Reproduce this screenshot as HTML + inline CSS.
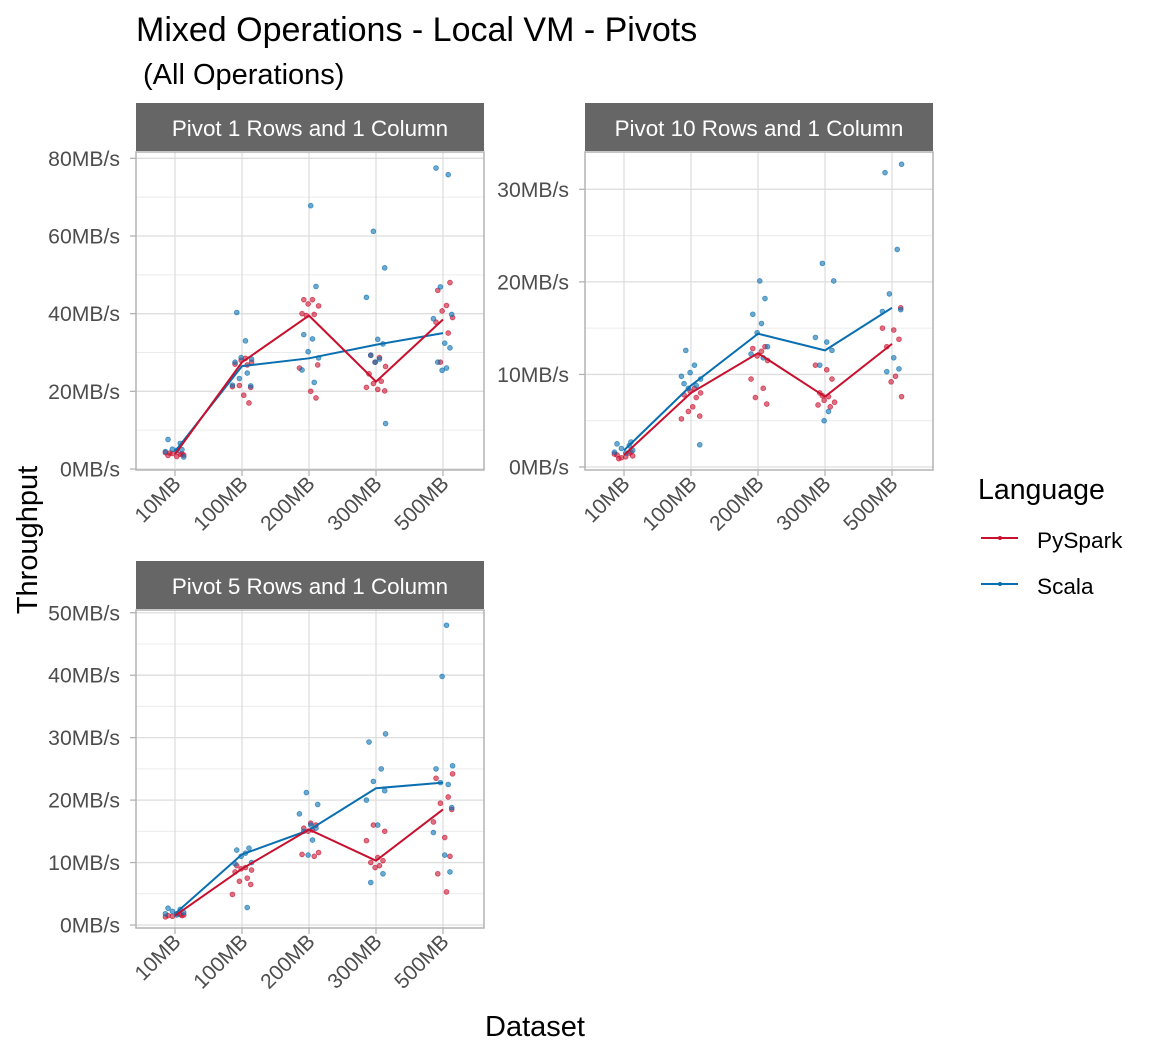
<!DOCTYPE html>
<html><head><meta charset="utf-8">
<style>
body{margin:0;background:#fff;}
svg{display:block;font-family:"Liberation Sans",Arial,sans-serif;}
</style></head>
<body>
<svg id="chart" width="1152" height="1056" xmlns="http://www.w3.org/2000/svg">
<text x="136" y="41" font-size="34" fill="#000">Mixed Operations - Local VM - Pivots</text>
<text x="143" y="84" font-size="29" fill="#000">(All Operations)</text>
<text transform="translate(37,540) rotate(-90)" text-anchor="middle" font-size="29" fill="#000">Throughput</text>
<text x="535" y="1036" text-anchor="middle" font-size="29" fill="#000">Dataset</text>
<g>
<text x="978" y="499" font-size="28.5" fill="#000">Language</text>
<g>
<line x1="981" y1="538" x2="1018" y2="538" stroke="#c8102e" stroke-width="2"/><circle cx="1000" cy="538" r="2" fill="#c8102e"/>
<text x="1037" y="548" font-size="22.6" fill="#000">PySpark</text></g>
<g>
<line x1="981" y1="584" x2="1018" y2="584" stroke="#0a6fb0" stroke-width="2"/><circle cx="1000" cy="584" r="2" fill="#0a6fb0"/>
<text x="1037" y="594" font-size="22.6" fill="#000">Scala</text></g>
</g>
<g id="panels"></g>
</svg>
<script>
const categories = ["10MB","100MB","200MB","300MB","500MB"];
const p1Title = "Pivot 1 Rows and 1 Column";
const p1Ticks = [0,20,40,60,80];
const p1PyMean = [3.8,27.5,39.5,22.5,38.5];
const p1ScMean = [4.5,26.5,28.5,32,35];
const p1Py = [[3.5,3.8,4,3.6,4.2,3.2,3.9,4.1],[28.5,28,27.5,27,26.8,21.5,21,21.2,19,17],[43.6,43.6,42.5,42,40,39.8,39.5,26.8,26,20,18.3],[29.3,28.7,27.5,26.4,24.5,22.6,22,20.1,21,20.5],[48,46,42.1,40.7,39,37.8,35,27.5]];
const p1Sc = [[7.6,6.6,5.1,3.1,4.5,4.8,5],[40.3,33,28.7,28.3,27.5,24.7,23.3,21.4,21.6],[67.8,47,34.6,33.5,30.2,28.6,25.5,22.3],[61.2,51.8,44.2,33.4,32.2,29.3,28.3,27.5,11.7],[77.5,75.8,46.9,39.8,38.7,32.4,31.2,27.5,26,25.4]];
const p2Title = "Pivot 10 Rows and 1 Column";
const p2Ticks = [0,10,20,30];
const p2PyMean = [1.3,8.0,12.3,7.6,13.3];
const p2ScMean = [1.8,8.8,14.4,12.6,17.2];
const p2Py = [[1.3,1.5,1.0,1.2,1.4,1.1,1.6,0.9],[8.5,8.2,8,7.8,7.5,6,5.5,5.2,6.5],[13,12.8,12.5,12,11.5,9.5,8.5,7.5,6.8],[11,10.5,9.5,8,7.6,7.2,7,6.7,6.5,7.7],[17.2,15,14.8,13.8,13,9.8,9.2,7.6]];
const p2Sc = [[2.5,2.3,2.0,1.8,1.6,1.5,2.7],[12.6,11,10.2,9.5,9,8.8,8.5,2.4,9.8],[20.1,18.2,16.5,15.5,14.5,13,12.2,11.8],[22,20.1,14,13.5,12.6,11,6,5],[32.7,31.8,23.5,18.7,17,16.8,11.8,10.6,10.3]];
const p3Title = "Pivot 5 Rows and 1 Column";
const p3Ticks = [0,10,20,30,40,50];
const p3PyMean = [1.5,9,15.3,10.3,18.5];
const p3ScMean = [1.8,11.3,15.2,21.9,22.8];
const p3Py = [[1.5,1.7,1.4,1.6,1.3,1.8,1.5],[9.5,9.2,9,8.8,8.5,7.5,7,6.5,4.9],[16.3,16,15.5,15.2,15,11.6,11.3,11.0],[16,15,13.5,10.8,10.3,10,9.5,9.2],[24.2,23.5,20.5,19.5,18.5,16.5,14,11,8.2,5.3]];
const p3Sc = [[2.7,2.5,2.2,2,1.8,1.6],[12.3,12,11.5,11,10,9.8,2.8],[21.2,19.3,17.8,16,15.5,15,13.6,11.2],[30.6,29.3,25,23,21.5,20,16,8.2,6.8],[48,39.8,25.5,25,22.5,22.8,18.8,14.8,11.2,8.5]];
const jitter = [-0.08,0.06,-0.03,0.1,-0.11,0.02,0.08,-0.06,0.04,-0.01,0.11];

const NS="http://www.w3.org/2000/svg";
function mk(tag,attrs,parent){const e=document.createElementNS(NS,tag);for(const k in attrs)e.setAttribute(k,attrs[k]);parent.appendChild(e);return e;}
const root=document.getElementById('panels');
const PY="#c8102e", SC="#0a6fb0";

function panel(name,title,L,T,B,y0,yMax,ticks,pyMean,scMean,py,sc){
  const R=L+348, stripTop=T-49;
  const g=mk('g',{},root);
  
  
  const xs=i=>L+39+i*67;
  const yTop=T+4;
  const ys=v=>y0-(v/yMax)*(y0-yTop);
  const strip=mk('rect',{x:L,y:stripTop,width:348,height:48,fill:'#666666'},g);
  
  
  const st=mk('text',{x:L+174,y:stripTop+33,'text-anchor':'middle','font-size':22.4,fill:'#fff'},g);
  st.textContent=title;
  
  
  const step=ticks[1]-ticks[0];
  for(let k=0;k<ticks.length;k++){
    const mid=ticks[k]+step/2;
    if(ys(mid)>T) mk('line',{x1:L,x2:R,y1:ys(mid),y2:ys(mid),stroke:'#ececec','stroke-width':1},g);
    mk('line',{x1:L,x2:R,y1:ys(ticks[k]),y2:ys(ticks[k]),stroke:'#dedede','stroke-width':1.3},g);
    mk('line',{x1:L-6,x2:L,y1:ys(ticks[k]),y2:ys(ticks[k]),stroke:'#b3b3b3','stroke-width':1.3},g);
    const t=mk('text',{x:L-16,y:ys(ticks[k])+7.5,'text-anchor':'end','font-size':21.2,fill:'#4d4d4d'},g);
    t.textContent=ticks[k]+'MB/s';
    
    
  }
  categories.forEach((c,i)=>{
    mk('line',{x1:xs(i),x2:xs(i),y1:T,y2:B,stroke:'#dedede','stroke-width':1.3},g);
    mk('line',{x1:xs(i),x2:xs(i),y1:B,y2:B+6,stroke:'#b3b3b3','stroke-width':1.3},g);
    const t=mk('text',{transform:`translate(${xs(i)+7},${B+15}) rotate(-45)`,'text-anchor':'end','font-size':21,fill:'#4d4d4d'},g);
    t.textContent=c;
    
    
  });
  mk('rect',{x:L,y:T,width:348,height:B-T,fill:'none',stroke:'#b3b3b3','stroke-width':1.5},g);
  function pts(arr,col,sname){
    let n=0;
    arr.forEach((vals,i)=>vals.forEach(v=>{
      const c=mk('circle',{cx:xs(i)+jitter[n%jitter.length]*67*1.3,cy:ys(v),r:2.4,fill:col,'fill-opacity':0.6,stroke:col,'stroke-opacity':0.7,'stroke-width':0.8},g);
      
      
      n++;
    }));
  }
  pts(py,PY,'pyspark');pts(sc,SC,'scala');
  function line(m,col,sname){
    const p=mk('polyline',{points:m.map((v,i)=>xs(i)+','+ys(v)).join(' '),fill:'none',stroke:col,'stroke-width':2},g);
    
    
  }
  line(scMean,SC,'scala');line(pyMean,PY,'pyspark');
}
panel('panel-pivot-1',p1Title,136,152,470,469,80.6,p1Ticks,p1PyMean,p1ScMean,p1Py,p1Sc);
panel('panel-pivot-10',p2Title,585,152,470,467,33.6,p2Ticks,p2PyMean,p2ScMean,p2Py,p2Sc);
panel('panel-pivot-5',p3Title,136,610,928,925,49.8,p3Ticks,p3PyMean,p3ScMean,p3Py,p3Sc);
</script>
</body></html>
